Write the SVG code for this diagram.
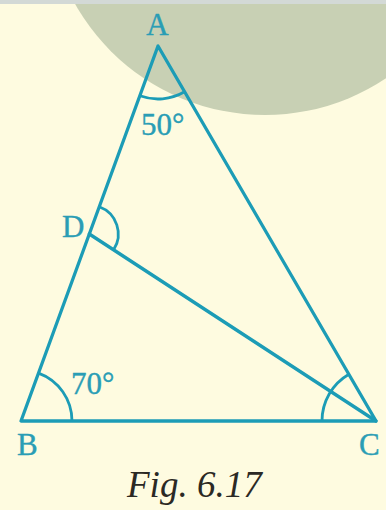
<svg xmlns="http://www.w3.org/2000/svg" width="386" height="510" viewBox="0 0 386 510">
  <style>
    .edge { stroke: #1c9cb6; stroke-width: 3.3; fill: none; stroke-linecap: round; stroke-linejoin: round; }
    .arc { stroke: #1c9cb6; stroke-width: 2.8; fill: none; }
    .lbl { font-family: "Liberation Serif", "Times New Roman", serif; font-size: 31px; fill: #2a9db5; stroke: #2a9db5; stroke-width: 0.4; }
    .cap { font-family: "Liberation Serif", "Times New Roman", serif; font-size: 37px; font-style: italic; fill: #2b2924; }
  </style>
  <rect x="0" y="0" width="386" height="510" fill="#fefbe0"/>
  <circle cx="265" cy="-103" r="218" fill="#c8d0b4"/>
  <rect x="0" y="0" width="386" height="4" fill="#d3d9d6"/>

  <g id="connectors">
    <path class="edge" d="M158,46 L21,421 L376,421 Z"/>
    <path class="edge" d="M89.3,234 L376,421"/>
    <path class="arc" d="M139.8,95.8 A53,53 0 0 0 184.6,91.8"/>
    <path class="arc" d="M72,421 A51,51 0 0 0 38.5,373.1"/>
    <path class="arc" d="M322,421 A54,54 0 0 1 348.9,374.3"/>
    <path class="arc" d="M99.25,206.76 A29,29 0 0 1 113.6,249.8"/>
  </g>

  <g id="A"><text class="lbl" x="157.5" y="35" text-anchor="middle">A</text></g>
  <g id="angleA"><text class="lbl" x="141" y="135">50°</text></g>
  <g id="D"><text class="lbl" x="62" y="237">D</text></g>
  <g id="angleB"><text class="lbl" x="71" y="394">70°</text></g>
  <g id="B"><text class="lbl" x="17" y="455">B</text></g>
  <g id="C"><text class="lbl" x="359" y="455">C</text></g>
  <g id="caption"><text class="cap" x="127" y="497">Fig. 6.17</text></g>
</svg>
